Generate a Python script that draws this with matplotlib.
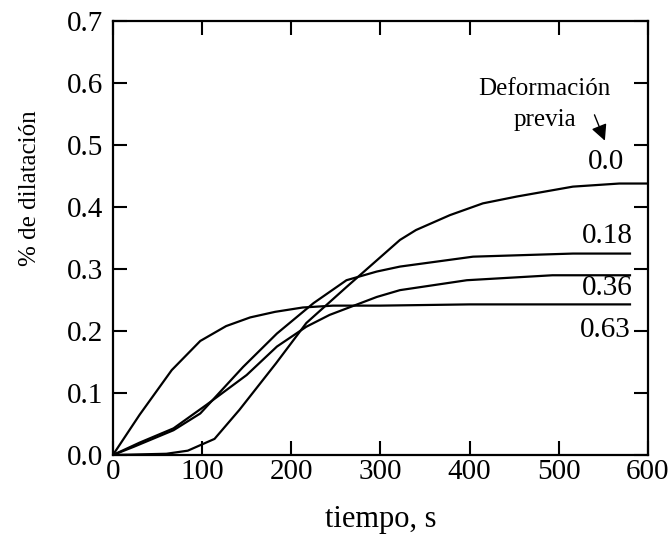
import matplotlib.pyplot as plt
import numpy as np

plt.rcParams['font.family'] = ['Liberation Serif', 'DejaVu Serif']

# Datos (tiempo en s, % de dilatación)
t_00 = [0, 60, 84, 114, 142, 183, 217, 262, 322, 340, 378, 415, 453, 516, 568, 598]
d_00 = [0, 0.002, 0.007, 0.026, 0.073, 0.148, 0.213, 0.271, 0.347, 0.363, 0.387, 0.406, 0.417, 0.433, 0.438, 0.438]

t_18 = [0, 23, 68, 98, 146, 184, 225, 262, 296, 322, 404, 516, 580]
d_18 = [0, 0.013, 0.040, 0.067, 0.142, 0.196, 0.245, 0.282, 0.296, 0.304, 0.320, 0.325, 0.325]

t_36 = [0, 30, 68, 105, 150, 184, 217, 243, 296, 322, 397, 493, 580]
d_36 = [0, 0.020, 0.043, 0.081, 0.129, 0.175, 0.207, 0.226, 0.255, 0.266, 0.282, 0.290, 0.290]

t_63 = [0, 30, 66, 98, 127, 154, 182, 213, 247, 300, 400, 580]
d_63 = [0, 0.065, 0.137, 0.184, 0.208, 0.222, 0.231, 0.238, 0.241, 0.241, 0.243, 0.243]

series = [(t_00, d_00), (t_18, d_18), (t_36, d_36), (t_63, d_63)]
labels = ['0.0', '0.18', '0.36', '0.63']
label_x = [573, 583, 583, 581]
label_y = [0.473, 0.353, 0.269, 0.202]

fig = plt.figure(figsize=(6.72, 5.42), dpi=100)
ax = fig.add_axes([0.168, 0.1605, 0.796, 0.8005])

for t, d in series:
    ax.plot(t, d, color='black', linewidth=1.6)

for lab, x, y in zip(labels, label_x, label_y):
    ax.text(x, y, lab, ha='right', va='center', fontsize=21)

ax.text(484, 0.590, 'Deformación', ha='center', va='center', fontsize=18)
ax.text(484, 0.541, 'previa', ha='center', va='center', fontsize=18)
ax.annotate('', xy=(553, 0.503), xytext=(539, 0.553),
            arrowprops=dict(arrowstyle='-|>', color='black', lw=1.0,
                            mutation_scale=24))

ax.set_xlim(0, 600)
ax.set_ylim(0, 0.7)
ax.set_xticks(np.arange(0, 601, 100))
ax.set_yticks(np.arange(0, 0.71, 0.1))
ax.set_yticklabels([f'{v:.1f}' for v in np.arange(0, 0.71, 0.1)])
ax.tick_params(direction='in', length=10, width=1.5, top=True, right=True,
               labelsize=21)
ax.tick_params(axis='y', pad=7)
ax.tick_params(axis='x', pad=3)
for s in ax.spines.values():
    s.set_linewidth(1.6)

ax.set_xlabel('tiempo, s', fontsize=22, labelpad=14)
ax.set_ylabel('% de dilatación', fontsize=18)
ax.yaxis.set_label_coords(-0.135, 0.615)

plt.savefig('out.png', dpi=100)
